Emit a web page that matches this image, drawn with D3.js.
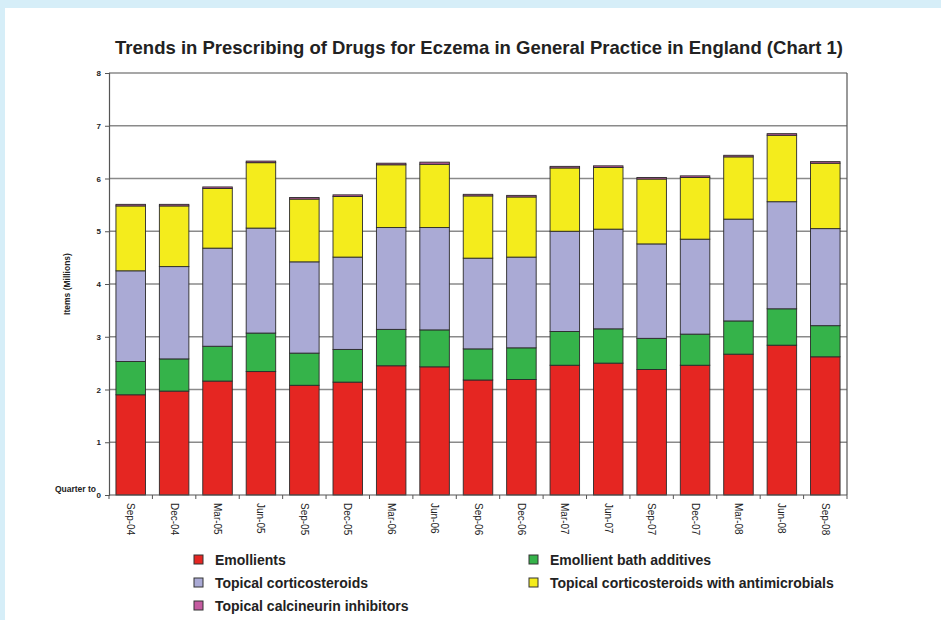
<!DOCTYPE html>
<html>
<head>
<meta charset="utf-8">
<script src="https://cdn.jsdelivr.net/npm/d3@7"></script>
<style>
  body { margin: 0; background: #d6eef8; }
  .chart { position: absolute; left: 5px; top: 8px; width: 936px; height: 612px; background: #fff; }
  text { font-family: "Liberation Sans", Arial, sans-serif; fill: #222; }
</style>
</head>
<body>
<div class="chart"></div>
<script>
var quarters = ["Sep-04", "Dec-04", "Mar-05", "Jun-05", "Sep-05", "Dec-05", "Mar-06", "Jun-06",
  "Sep-06", "Dec-06", "Mar-07", "Jun-07", "Sep-07", "Dec-07", "Mar-08", "Jun-08", "Sep-08"];

// items in millions
var emollients = [1.90, 1.97, 2.16, 2.34, 2.08, 2.14, 2.45, 2.43, 2.18, 2.19, 2.46, 2.50, 2.38, 2.46, 2.67, 2.84, 2.62];
var bathAdditives = [0.63, 0.61, 0.66, 0.73, 0.61, 0.62, 0.69, 0.70, 0.59, 0.60, 0.64, 0.65, 0.59, 0.59, 0.63, 0.69, 0.59];
var corticosteroids = [1.72, 1.75, 1.86, 1.99, 1.73, 1.75, 1.93, 1.94, 1.72, 1.72, 1.90, 1.89, 1.79, 1.80, 1.93, 2.03, 1.84];
var withAntimicrobials = [1.23, 1.15, 1.13, 1.24, 1.19, 1.15, 1.19, 1.20, 1.18, 1.14, 1.20, 1.17, 1.23, 1.17, 1.18, 1.26, 1.24];
var calcineurin = [0.03, 0.03, 0.03, 0.03, 0.03, 0.03, 0.03, 0.04, 0.03, 0.03, 0.03, 0.03, 0.03, 0.03, 0.03, 0.03, 0.03];

var yTicks = [0, 1, 2, 3, 4, 5, 6, 7, 8];

var seriesNames = ["Emollients", "Emollient bath additives", "Topical corticosteroids",
  "Topical corticosteroids with antimicrobials", "Topical calcineurin inhibitors"];
var seriesColors = ["#e52622", "#35b34a", "#aaaad5", "#f4ec1c", "#c45ba0"];
var seriesValues = [emollients, bathAdditives, corticosteroids, withAntimicrobials, calcineurin];

var rows = quarters.map(function(q, i) {
  var r = { quarter: q };
  seriesNames.forEach(function(s, j) { r[s] = seriesValues[j][i]; });
  return r;
});

var margin = { top: 65, right: 94, bottom: 125, left: 104 };
var width = 936 - margin.left - margin.right;
var height = 612 - margin.top - margin.bottom;

var svg = d3.select(".chart").append("svg")
    .attr("width", 936)
    .attr("height", 612);

var g = svg.append("g")
    .attr("transform", "translate(" + margin.left + "," + margin.top + ")");

var x = d3.scaleBand()
    .domain(quarters)
    .range([0, width])
    .paddingInner(0.32)
    .paddingOuter(0.16);

var y = d3.scaleLinear()
    .domain([0, 8])
    .range([height, 0]);

// title
svg.append("text")
    .attr("x", 474)
    .attr("y", 46)
    .style("text-anchor", "middle")
    .style("font-size", "18.5px")
    .style("font-weight", "bold")
    .text("Trends in Prescribing of Drugs for Eczema in General Practice in England (Chart 1)");

// gridlines
g.selectAll(".grid")
    .data(yTicks.slice(1))
  .enter().append("line")
    .attr("class", "grid")
    .attr("x1", 0)
    .attr("x2", width)
    .attr("y1", function(d) { return y(d); })
    .attr("y2", function(d) { return y(d); })
    .attr("stroke", "#8a8a8a")
    .attr("stroke-width", 1.3);

// right border
g.append("line")
    .attr("x1", width).attr("x2", width)
    .attr("y1", 0).attr("y2", height)
    .attr("stroke", "#555")
    .attr("stroke-width", 1.2);

// stacked bars
var stack = d3.stack().keys(seriesNames);
var layers = stack(rows);

g.selectAll(".layer")
    .data(layers)
  .enter().append("g")
    .attr("class", "layer")
    .attr("fill", function(d, i) { return seriesColors[i]; })
  .selectAll("rect")
    .data(function(d) { return d; })
  .enter().append("rect")
    .attr("x", function(d) { return x(d.data.quarter); })
    .attr("width", x.bandwidth())
    .attr("y", function(d) { return y(d[1]); })
    .attr("height", function(d) { return y(d[0]) - y(d[1]); })
    .attr("stroke", "#2a2a2a")
    .attr("stroke-width", 0.9);

// y axis
var yAxis = d3.axisLeft(y).tickValues(yTicks).tickSize(4).tickPadding(4);
var yg = g.append("g").attr("class", "y axis").call(yAxis);
yg.select(".domain").attr("stroke", "#555").attr("stroke-width", 1.2);
yg.selectAll(".tick line").attr("stroke", "#555");
yg.selectAll(".tick text")
    .style("font-size", "8px")
    .style("font-weight", "bold")
    .style("font-family", "Liberation Sans, Arial, sans-serif")
    .attr("fill", "#222");

g.append("text")
    .attr("transform", "rotate(-90)")
    .attr("x", -height / 2)
    .attr("y", -39)
    .style("text-anchor", "middle")
    .style("font-size", "8.5px")
    .style("font-weight", "bold")
    .text("Items (Millions)");

g.append("text")
    .attr("x", -13)
    .attr("y", height - 3)
    .style("text-anchor", "end")
    .style("font-size", "8.5px")
    .style("font-weight", "bold")
    .text("Quarter to");

// x axis: ticks on category boundaries, labels rotated
var xg = g.append("g").attr("class", "x axis")
    .attr("transform", "translate(0," + height + ")");

xg.append("line")
    .attr("x1", 0).attr("x2", width)
    .attr("stroke", "#555")
    .attr("stroke-width", 1.2);

xg.selectAll(".xtick")
    .data(d3.range(quarters.length + 1))
  .enter().append("line")
    .attr("class", "xtick")
    .attr("x1", function(i) { return i * x.step(); })
    .attr("x2", function(i) { return i * x.step(); })
    .attr("y1", 0)
    .attr("y2", 4)
    .attr("stroke", "#555");

xg.selectAll(".xlabel")
    .data(quarters)
  .enter().append("text")
    .attr("class", "xlabel")
    .attr("transform", function(d) {
      return "translate(" + (x(d) + x.bandwidth() / 2) + ",8) rotate(90)";
    })
    .attr("dy", "0.35em")
    .style("text-anchor", "start")
    .style("font-size", "10px")
    .attr("fill", "#333")
    .text(function(d) { return d; });

// legend
var legendPos = [[189, 552], [524, 552], [189, 575], [524, 575], [189, 598]];
var legend = svg.selectAll(".legend")
    .data(seriesNames)
  .enter().append("g")
    .attr("class", "legend")
    .attr("transform", function(d, i) { return "translate(" + legendPos[i][0] + "," + legendPos[i][1] + ")"; });

legend.append("rect")
    .attr("x", 0)
    .attr("y", -5)
    .attr("width", 9)
    .attr("height", 9)
    .attr("fill", function(d, i) { return seriesColors[i]; })
    .attr("stroke", "#333")
    .attr("stroke-width", 1);

legend.append("text")
    .attr("x", 21)
    .attr("y", 0)
    .attr("dy", "0.35em")
    .style("font-size", "14px")
    .style("font-weight", "bold")
    .text(function(d) { return d; });
</script>
</body>
</html>
